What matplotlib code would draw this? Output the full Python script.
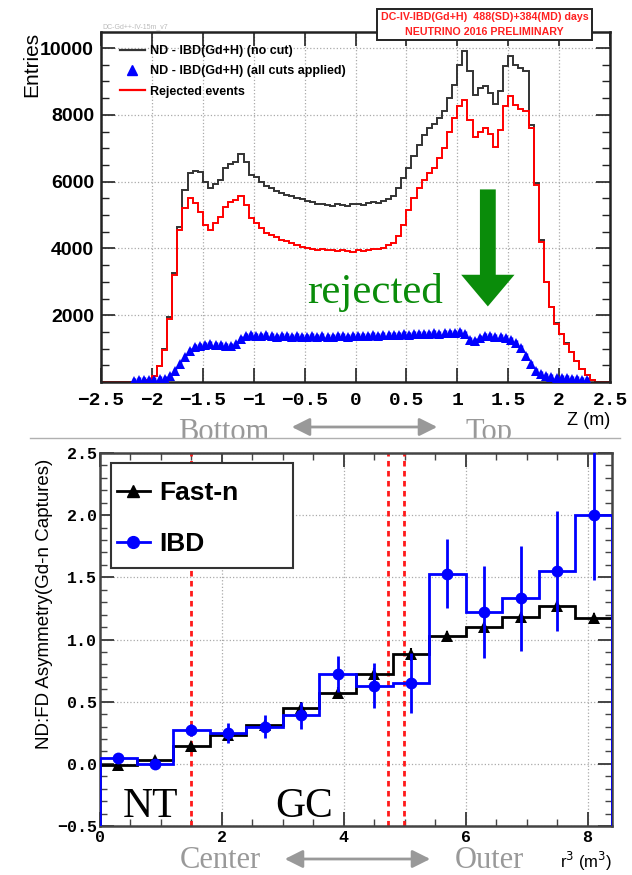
import numpy as np
import matplotlib.pyplot as plt
from matplotlib.lines import Line2D
from matplotlib.patches import Rectangle, FancyArrowPatch
from matplotlib.ticker import MultipleLocator, FuncFormatter

W, H = 632, 875


def fx(x):
    return x / W


def fy(y):
    return 1 - y / H


# --- vertex Z distribution (near detector), 0.05 m bins ---
z_edges = np.linspace(-2.5, 2.5, 101)
z_centers = 0.5 * (z_edges[:-1] + z_edges[1:])

no_cut = [
    0, 0, 0, 0, 0, 0, 0, 0, 10, 60,
    190, 480, 980, 1950, 3250, 4650, 5750, 6250, 6330, 6280,
    6000, 5800, 5920, 6050, 6400, 6520, 6600, 6830, 6580, 6200,
    6130, 6000, 5880, 5820, 5730, 5660, 5600, 5560, 5500, 5470,
    5420, 5400, 5340, 5330, 5290, 5260, 5320, 5300, 5280, 5320,
    5330, 5290, 5350, 5380, 5360, 5410, 5480, 5560, 5820, 6100,
    6420, 6760, 7100, 7400, 7600, 7740, 7900, 8100, 8500, 8900,
    9500, 9900, 9300, 8600, 8800, 8850, 8650, 8330, 8700, 9450,
    9750, 9500, 9400, 9300, 7700, 5950, 4250, 3000, 2250, 1760,
    1450, 1160, 900, 630, 400, 220, 60, 0, 0, 0,
]
rejected = [
    0, 0, 0, 0, 0, 0, 0, 0, 10, 60,
    190, 470, 960, 1900, 3200, 4550, 5200, 5500, 5350, 5080,
    4700, 4550, 4750, 4950, 5250, 5380, 5450, 5560, 5300, 4920,
    4760, 4620, 4450, 4400, 4330, 4260, 4220, 4160, 4100, 4050,
    4010, 3980, 3960, 3970, 3940, 3950, 3920, 3950, 3910, 3890,
    3950, 3930, 3960, 3980, 3990, 4020, 4090, 4160, 4360, 4700,
    5150, 5500, 5800, 6050, 6250, 6420, 6700, 7000, 7500, 7900,
    8250, 8450, 7850, 7350, 7500, 7600, 7420, 7030, 7550, 8250,
    8560, 8300, 8170, 8100, 7600, 5900, 4200, 2980, 2240, 1750,
    1440, 1150, 900, 620, 400, 220, 60, 0, 0, 0,
]
all_cuts = [
    np.nan, np.nan, np.nan, np.nan, np.nan, np.nan, 30, 45, 50, 55,
    60, 75, 90, 170, 330, 540, 750, 930, 1040, 1090,
    1110, 1130, 1110, 1120, 1090, 1070, 1130, 1290, 1370, 1410,
    1390, 1370, 1400, 1380, 1360, 1390, 1370, 1350, 1380, 1360,
    1340, 1370, 1360, 1380, 1350, 1360, 1370, 1390, 1360, 1380,
    1370, 1390, 1380, 1400, 1390, 1410, 1400, 1420, 1410, 1430,
    1420, 1440, 1430, 1450, 1440, 1460, 1450, 1470, 1460, 1480,
    1490, 1450, 1270, 1240, 1330, 1380, 1370, 1360, 1340, 1310,
    1260, 1160, 1010, 790, 530, 340, 230, 175, 145, 125,
    115, 105, 95, 85, 65, 45, np.nan, np.nan, np.nan, np.nan,
]

# --- ND:FD asymmetry vs r^3 ---
r3_edges = np.linspace(0, 8.4, 15)
r3_centers = 0.5 * (r3_edges[:-1] + r3_edges[1:])
fastn = [-0.01, 0.03, 0.14, 0.23, 0.31, 0.45, 0.57, 0.72, 0.88, 1.03, 1.10, 1.18, 1.27, 1.17]
fastn_err = [0.02, 0.03, 0.03, 0.03, 0.04, 0.05, 0.05, 0.05, 0.05, 0.04, 0.04, 0.04, 0.04, 0.04]
ibd = [0.05, 0.0, 0.27, 0.25, 0.30, 0.39, 0.72, 0.63, 0.65, 1.53, 1.22, 1.33, 1.55, 2.00]
ibd_err = [0.03, 0.03, 0.05, 0.08, 0.09, 0.11, 0.145, 0.18, 0.24, 0.28, 0.37, 0.42, 0.48, 0.52]
region_bounds = [1.5, 4.72, 4.98]

BLUE = '#0000ff'
GRAY = '#999999'
GREEN = '#0a8c0a'
SANS = ['Liberation Sans', 'DejaVu Sans']
MONO = ['Liberation Mono', 'DejaVu Sans Mono']
SERIF = ['Liberation Serif', 'DejaVu Serif']

fig = plt.figure(figsize=(W / 100, H / 100), dpi=100)


def root_frame(ax, color='#222222'):
    for s in ax.spines.values():
        s.set_linewidth(1.8)
        s.set_color(color)
    ax.tick_params(which='both', direction='in', top=True, right=True, color=color)
    ax.grid(True, ls=':', color='#aaaaaa', lw=0.9)
    ax.set_axisbelow(True)


def num_fmt(v, pos):
    return ('%g' % v).replace('-', '\u2212')


# ---------------- top panel ----------------
ax1 = fig.add_axes([fx(101), fy(382), fx(610) - fx(101), (382 - 32) / H])
root_frame(ax1)
ax1.stairs(no_cut, z_edges, baseline=None, color='#333333', lw=1.4)
ax1.stairs(rejected, z_edges, baseline=None, color='#ff0000', lw=1.4)
ax1.errorbar(z_centers, all_cuts, yerr=90, fmt='^', ms=7, mew=0, color=BLUE,
             ecolor=BLUE, elinewidth=2.5, capsize=0, zorder=3)
ax1.set_xlim(-2.5, 2.5)
ax1.set_ylim(0, 10480)
ax1.xaxis.set_major_locator(MultipleLocator(0.5))
ax1.yaxis.set_major_locator(MultipleLocator(2000))
ax1.yaxis.set_minor_locator(MultipleLocator(500))
ax1.xaxis.set_major_formatter(FuncFormatter(num_fmt))
ax1.yaxis.set_major_formatter(FuncFormatter(lambda v, p: '' if v == 0 else '%d' % v))
ax1.tick_params(which='major', length=10, width=1.2)
ax1.tick_params(which='minor', length=6, width=1.0)
ax1.tick_params(axis='y', pad=5)
ax1.tick_params(axis='x', pad=7)
for lab in ax1.get_yticklabels():
    lab.set_family(SANS)
    lab.set_weight('bold')
    lab.set_size(14)
for lab in ax1.get_xticklabels():
    lab.set_family(MONO)
    lab.set_weight('bold')
    lab.set_size(14)

handles = [
    Line2D([], [], color='#333333', lw=1.6),
    Line2D([], [], color=BLUE, marker='^', ms=7, ls='none'),
    Line2D([], [], color='#ff0000', lw=1.6),
]
labels = ['ND - IBD(Gd+H) (no cut)', 'ND - IBD(Gd+H) (all cuts applied)', 'Rejected events']
leg1 = ax1.legend(handles, labels, loc='upper left', bbox_to_anchor=(0.037, 0.962),
                  frameon=False, borderpad=0, borderaxespad=0, handlelength=2.0,
                  handletextpad=0.4, labelspacing=0.65,
                  prop={'family': SANS, 'weight': 'bold', 'size': 9})

# green arrow and label
ax1.add_patch(FancyArrowPatch((1.30, 5850), (1.30, 2180),
                              arrowstyle='simple,head_width=3.2,tail_width=0.95,head_length=1.9',
                              mutation_scale=12, color=GREEN, lw=0, zorder=4))
ax1.text(-0.476, 2360, 'rejected', color=GREEN, family=SERIF, fontsize=31, va='baseline', ha='left')

fig.text(fx(32), fy(64), 'Entries', rotation=90, ha='center', va='center', family=SANS, fontsize=15)
fig.text(fx(102), fy(27), 'DC-Gd++-IV-15m_v7', family=SANS, fontsize=5, color='#bbbbbb', va='center')
fig.text(fx(610), fy(421), 'Z (m)', ha='right', va='center', family=SANS, fontsize=13)
fig.text(fx(484.5), fy(24.5), 'DC-IV-IBD(Gd+H)  488(SD)+384(MD) days\nNEUTRINO 2016 PRELIMINARY',
         ha='center', va='center', ma='center', color='#ff2020', family=SANS, weight='bold',
         fontsize=7.7, linespacing=1.6, zorder=5,
         bbox=dict(boxstyle='square,pad=0.3', fc='white', ec='#222222', lw=1.4))

# direction hints under the top panel (cut off by the lower panel)
fig.text(fx(178), fy(440), 'Bottom', family=SERIF, fontsize=22, color=GRAY, va='baseline', zorder=1)
fig.text(fx(465), fy(440), 'Top', family=SERIF, fontsize=22, color=GRAY, va='baseline', zorder=1)
fig.patches.append(Rectangle((0, 0), 1, fy(437.5), transform=fig.transFigure, fc='white', ec='none', zorder=2))
fig.patches.append(FancyArrowPatch((fx(289), fy(427)), (fx(440), fy(427)), transform=fig.transFigure,
                                   arrowstyle='<|-|>,head_length=0.9,head_width=0.45', mutation_scale=12,
                                   color=GRAY, lw=2, zorder=3))
fig.lines.append(Line2D([fx(30), fx(620)], [fy(437.5), fy(437.5)], transform=fig.transFigure,
                        color='#b0b0b0', lw=1, zorder=3))

# ---------------- bottom panel ----------------
ax2 = fig.add_axes([fx(100), fy(826), fx(612) - fx(100), (826 - 453) / H], zorder=4)
root_frame(ax2, color='#444444')
for xb in region_bounds:
    ax2.axvline(xb, color='#ff1a1a', ls=(0, (2, 1.6)), lw=2, zorder=1)
ax2.stairs(fastn, r3_edges, baseline=-0.5, color='black', lw=2, zorder=2)
ax2.errorbar(r3_centers, fastn, yerr=fastn_err, fmt='^', ms=9, color='black', mew=0,
             elinewidth=1.5, capsize=0, zorder=3)
ax2.stairs(ibd, r3_edges, baseline=-0.5, color=BLUE, lw=2, zorder=4)
ax2.errorbar(r3_centers, ibd, yerr=ibd_err, fmt='o', ms=8.5, color=BLUE, mew=0,
             elinewidth=2, capsize=0, zorder=5)
ax2.set_xlim(0, 8.4)
ax2.set_ylim(-0.5, 2.5)
ax2.xaxis.set_major_locator(MultipleLocator(2))
ax2.xaxis.set_minor_locator(MultipleLocator(0.5))
ax2.yaxis.set_major_locator(MultipleLocator(0.5))
ax2.yaxis.set_minor_locator(MultipleLocator(0.1))
ax2.xaxis.set_major_formatter(FuncFormatter(num_fmt))
ax2.yaxis.set_major_formatter(FuncFormatter(lambda v, p: ('%.1f' % v).replace('-', '\u2212')))
ax2.tick_params(which='major', length=10, width=1.4)
ax2.tick_params(which='minor', length=5, width=1.0)
ax2.tick_params(axis='y', pad=2)
ax2.tick_params(axis='x', pad=3)
for lab in ax2.get_xticklabels() + ax2.get_yticklabels():
    lab.set_family(MONO)
    lab.set_weight('bold')
    lab.set_size(12)

# legend box drawn separately so it can be wider/taller than its entries
ax2.add_patch(Rectangle((0.0215, 0.6917), 0.3555, 0.2815, transform=ax2.transAxes,
                        fc='white', ec='#333333', lw=1.5, zorder=6))
h2 = [
    Line2D([], [], color='black', lw=2, marker='^', ms=9),
    Line2D([], [], color=BLUE, lw=2, marker='o', ms=8.5),
]
leg2 = ax2.legend(h2, ['Fast-n', 'IBD'], loc='upper left', bbox_to_anchor=(0.033, 0.925),
                  frameon=False, borderpad=0, borderaxespad=0,
                  handlelength=1.25, handletextpad=0.35, labelspacing=1.02,
                  prop={'family': SANS, 'weight': 'bold', 'size': 19})
leg2.set_zorder(7)

ax2.text(0.38, -0.426, 'NT', family=SERIF, fontsize=30, va='baseline')
ax2.text(2.87, -0.426, 'GC', family=SERIF, fontsize=30, va='baseline')

fig.text(fx(45), fy(604), 'ND:FD Asymmetry(Gd-n Captures)', rotation=90, ha='center', va='center',
         family=SANS, fontsize=13.5)
fig.text(fx(180), fy(868), 'Center', family=SERIF, fontsize=22, color=GRAY, va='baseline')
fig.text(fx(455), fy(868), 'Outer', family=SERIF, fontsize=22, color=GRAY, va='baseline')
fig.patches.append(FancyArrowPatch((fx(282), fy(859)), (fx(433), fy(859)), transform=fig.transFigure,
                                   arrowstyle='<|-|>,head_length=0.9,head_width=0.45', mutation_scale=12,
                                   color=GRAY, lw=2, zorder=3))
fig.text(fx(612), fy(861), r'r$^3$ (m$^3$)', ha='right', va='center', family=SANS, fontsize=12)

fig.savefig('out.png', dpi=100)
